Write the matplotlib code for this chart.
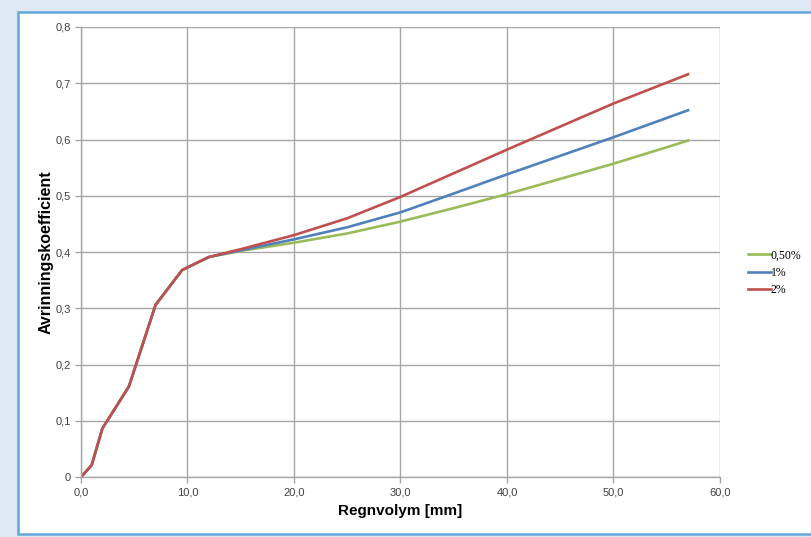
import matplotlib.pyplot as plt
from matplotlib.patches import Rectangle
from matplotlib.ticker import FuncFormatter

plt.rcParams['font.family'] = ['Liberation Sans', 'DejaVu Sans']

# Rain volume [mm] and runoff coefficient for three slopes
x_common = [0.0, 1.0, 2.0, 4.5, 7.0, 9.5, 12.0]
y_common = [0.0, 0.021, 0.086, 0.161, 0.306, 0.368, 0.391]

x_tail = [15.0, 20.0, 25.0, 30.0, 35.0, 40.0, 45.0, 50.0, 57.0]
y_050 = [0.402, 0.4165, 0.433, 0.454, 0.478, 0.503, 0.530, 0.557, 0.598]
y_1 = [0.403, 0.4225, 0.444, 0.4705, 0.504, 0.538, 0.571, 0.604, 0.652]
y_2 = [0.405, 0.430, 0.460, 0.498, 0.540, 0.582, 0.623, 0.664, 0.716]

series_labels = ['0,50%', '1%', '2%']
series_colors = ['#9bbb59', '#4f81bd', '#c0504d']

fig = plt.figure(figsize=(8.12, 5.37), dpi=100, facecolor='#dde8f4')
fig.patches.append(Rectangle((18 / 812, 3 / 537), 0.99, 522 / 537, transform=fig.transFigure,
                             facecolor='white', edgecolor='#62a8dc', linewidth=1.8, zorder=-10))

ax = fig.add_axes([81 / 812, 1 - 477 / 537, 639 / 812, 450 / 537])
ax.set_facecolor('white')

for ys, lab, col in zip([y_050, y_1, y_2], series_labels, series_colors):
    ax.plot(x_common + x_tail, y_common + ys, color=col, linewidth=1.9, label=lab,
            solid_joinstyle='round')

ax.set_xlim(0, 60)
ax.set_ylim(0, 0.8)
ax.set_xticks(range(0, 61, 10))
ax.set_yticks([i / 10 for i in range(9)])
ax.xaxis.set_major_formatter(FuncFormatter(lambda v, p: f'{v:.1f}'.replace('.', ',')))
ax.yaxis.set_major_formatter(FuncFormatter(lambda v, p: '0' if v == 0 else f'{v:.1f}'.replace('.', ',')))
ax.grid(True, color='#a6a6a6', linewidth=1.0)
ax.set_axisbelow(True)
for s in ['top', 'right']:
    ax.spines[s].set_visible(False)
for s in ['left', 'bottom']:
    ax.spines[s].set_color('#a6a6a6')
    ax.spines[s].set_linewidth(1.0)
ax.tick_params(colors='#a6a6a6', labelcolor='#404040', labelsize=8, length=4, width=1.0)

ax.set_xlabel('Regnvolym [mm]', fontsize=11, fontweight='bold', labelpad=5)
ax.set_ylabel('Avrinningskoefficient', fontsize=11.5, fontweight='bold', labelpad=1)

leg = ax.legend(loc='center left', bbox_to_anchor=(1.044, 0.4535), frameon=False,
                prop={'family': 'Liberation Serif', 'size': 8.5}, handlelength=1.9,
                handletextpad=0.0, labelspacing=0.45, borderpad=0, borderaxespad=0)

fig.savefig('out.png', dpi=100, facecolor=fig.get_facecolor())
